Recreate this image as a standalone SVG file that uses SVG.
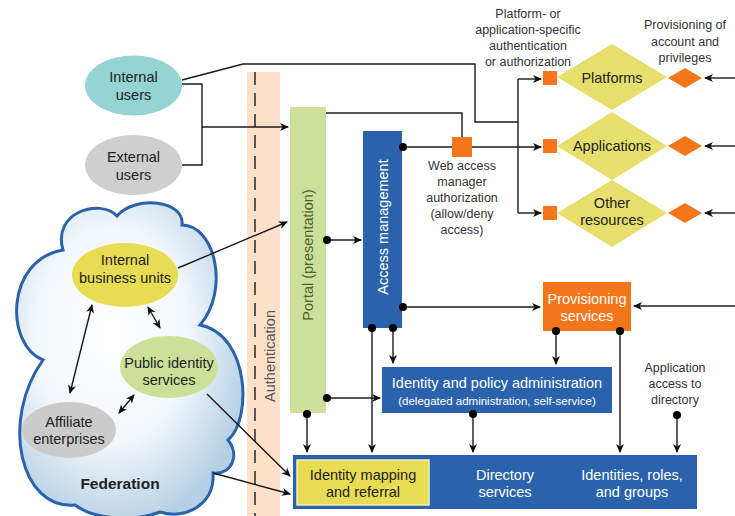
<svg xmlns="http://www.w3.org/2000/svg" width="735" height="516" viewBox="0 0 735 516">
<defs>
<marker id="ah" markerUnits="userSpaceOnUse" markerWidth="10" markerHeight="8" refX="8" refY="4" orient="auto-start-reverse" viewBox="0 0 10 8">
<path d="M0,0 L9,4 L0,8 L2.5,4 Z" fill="#111"/>
</marker>
<radialGradient id="cloudg" cx="0.42" cy="0.42" r="0.62">
<stop offset="0" stop-color="#ffffff"/>
<stop offset="0.55" stop-color="#f2f7fb"/>
<stop offset="1" stop-color="#b5d0e4"/>
</radialGradient>
<style>
text{font-family:"Liberation Sans",Arial,sans-serif;text-anchor:middle}
.t{font-size:14.5px;fill:#222}
.w{font-size:14.5px;fill:#fff}
.s{font-size:12.5px;fill:#333}
.c{fill:none;stroke:#1a1a1a;stroke-width:1.4}
.a{marker-end:url(#ah)}
.d{marker-start:url(#ah);marker-end:url(#ah)}
.dot{fill:#000}
.blue{fill:#2a63ab}
.org{fill:#f5761a}
.ydia{fill:#e6df6c}
</style>
</defs>

<g id="authentication">
<rect x="247" y="72" width="33" height="444" fill="#fde0c8"/>
<line x1="255" y1="72" x2="255" y2="516" stroke="#333" stroke-width="1.6" stroke-dasharray="13,8"/>
<text transform="translate(275,356) rotate(-90)" style="font-size:14.5px;fill:#555">Authentication</text>
</g>

<g id="federation">
<path d="M63,250 C52,212 100,198 117,216 C135,195 185,200 182,225 C215,225 230,290 200,325 C250,335 252,420 228,440 C240,455 232,475 213,473 C215,505 185,520 160,512 C135,522 95,520 75,505 C20,510 0,420 43,360 C5,345 5,260 63,250 Z" fill="url(#cloudg)" stroke="#2a63ab" stroke-width="3"/>
<text x="120" y="489" style="font-size:15.5px;font-weight:bold;fill:#222">Federation</text>
</g>

<g id="internal-users">
<ellipse cx="133.5" cy="85.5" rx="48.5" ry="30" fill="#96d3d3"/>
<text class="t" x="133.5" y="82">Internal</text>
<text class="t" x="133.5" y="100">users</text>
</g>

<g id="external-users">
<ellipse cx="133.5" cy="165" rx="48.5" ry="30" fill="#cfcfcf"/>
<text class="t" x="133.5" y="162">External</text>
<text class="t" x="133.5" y="180">users</text>
</g>

<g id="internal-business-units">
<ellipse cx="125" cy="275" rx="53" ry="32" fill="#e8dc52"/>
<text class="t" x="125" y="265">Internal</text>
<text class="t" x="125" y="283">business units</text>
</g>

<g id="public-identity-services">
<ellipse cx="169" cy="367" rx="49" ry="31" fill="#cde09a"/>
<text class="t" x="169" y="368">Public identity</text>
<text class="t" x="169" y="385">services</text>
</g>

<g id="affiliate-enterprises">
<ellipse cx="69" cy="430" rx="47" ry="28" fill="#cbcbcb"/>
<text class="t" x="69" y="427">Affiliate</text>
<text class="t" x="69" y="444">enterprises</text>
</g>

<g id="portal">
<rect x="290" y="107" width="36" height="306" fill="#cde09a"/>
<text transform="translate(313,255) rotate(-90)" style="font-size:14.5px;fill:#4f5f2c">Portal (presentation)</text>
</g>

<g id="access-management">
<rect class="blue" x="363" y="131" width="39" height="197"/>
<text class="w" transform="translate(388,227) rotate(-90)">Access management</text>
</g>

<g id="web-access-manager">
<rect class="org" x="452" y="137" width="20" height="20"/>
<text class="s" x="462" y="170">Web access</text>
<text class="s" x="462" y="186">manager</text>
<text class="s" x="462" y="202">authorization</text>
<text class="s" x="462" y="218">(allow/deny</text>
<text class="s" x="462" y="234">access)</text>
</g>

<g id="platform-auth-label">
<text class="s" x="528" y="18">Platform- or</text>
<text class="s" x="528" y="34">application-specific</text>
<text class="s" x="528" y="50">authentication</text>
<text class="s" x="528" y="66">or authorization</text>
</g>

<g id="provisioning-label">
<text class="s" x="685" y="29">Provisioning of</text>
<text class="s" x="685" y="46">account and</text>
<text class="s" x="685" y="62">privileges</text>
</g>

<g id="platforms">
<rect class="org" x="543" y="71" width="14" height="14"/>
<polygon class="ydia" points="557,77 612,44 667,77 612,110"/>
<polygon class="org" points="668,78 685,68 702,78 685,88"/>
<text class="t" x="612" y="83">Platforms</text>
</g>

<g id="applications">
<rect class="org" x="543" y="139" width="14" height="14"/>
<polygon class="ydia" points="557,146 612,112 667,146 612,180"/>
<polygon class="org" points="668,146 685,136 702,146 685,156"/>
<text class="t" x="612" y="151">Applications</text>
</g>

<g id="other-resources">
<rect class="org" x="543" y="206" width="14" height="14"/>
<polygon class="ydia" points="557,213 612,180 667,213 612,247"/>
<polygon class="org" points="668,213 685,203 702,213 685,223"/>
<text class="t" x="612" y="208">Other</text>
<text class="t" x="612" y="225">resources</text>
</g>

<g id="provisioning-services">
<rect class="org" x="543" y="282" width="88" height="49"/>
<text class="w" x="587" y="304">Provisioning</text>
<text class="w" x="587" y="321">services</text>
</g>

<g id="identity-policy-admin">
<rect class="blue" x="382" y="367" width="230" height="46"/>
<text class="w" x="497" y="388">Identity and policy administration</text>
<text x="497" y="405" style="font-size:11.5px;fill:#fff">(delegated administration, self-service)</text>
</g>

<g id="app-access-label">
<text class="s" x="675" y="372">Application</text>
<text class="s" x="675" y="388">access to</text>
<text class="s" x="675" y="404">directory</text>
</g>

<g id="directory-services">
<rect class="blue" x="293" y="455" width="404" height="54"/>
<rect x="297" y="460" width="132" height="45" fill="#e8dc52" stroke="#f6f1c4" stroke-width="1.5"/>
<text class="t" x="363" y="480">Identity mapping</text>
<text class="t" x="363" y="497">and referral</text>
<text class="w" x="505" y="480">Directory</text>
<text class="w" x="505" y="497">services</text>
<text class="w" x="632" y="480">Identities, roles,</text>
<text class="w" x="632" y="497">and groups</text>
</g>

<g id="connectors">
<polyline class="c" points="182,80 243,64 475,64 475,122 518,122"/>
<path class="c" d="M518,79 V213"/>
<path class="c a" d="M518,79 H541"/>
<path class="c a" d="M518,213 H541"/>
<path class="c" d="M182,84 H202 V165 H182"/>
<path class="c a" d="M202,127 H288"/>
<path class="c" d="M326,113 H462 V137"/>
<path class="c" d="M403,147 H452"/>
<path class="c a" d="M472,147 H541"/>
<path class="c a" d="M327,240 H361"/>
<path class="c a" d="M403,307 H540"/>
<path class="c a" d="M735,78 H705"/>
<path class="c a" d="M735,146 H705"/>
<path class="c a" d="M735,213 H705"/>
<path class="c a" d="M735,306 H634"/>
<path class="c a" d="M372,328 V452"/>
<path class="c a" d="M393,328 V363"/>
<path class="c a" d="M327,398 H380"/>
<path class="c a" d="M307,414 V452"/>
<path class="c a" d="M473,414 V452"/>
<path class="c a" d="M556,331 V364"/>
<path class="c a" d="M620,331 V452"/>
<path class="c a" d="M677,415 V452"/>
<path class="c a" d="M178,268 L287,222"/>
<path class="c a" d="M207,394 L290,476"/>
<path class="c a" d="M213,473 L290,494"/>
<path class="c d" d="M92,305 L70,393"/>
<path class="c d" d="M148,307 L160,328"/>
<path class="c d" d="M134,395 L119,413"/>
<circle class="dot" cx="403" cy="147" r="4"/>
<circle class="dot" cx="327" cy="240" r="4"/>
<circle class="dot" cx="403" cy="307" r="4"/>
<circle class="dot" cx="372" cy="328" r="4"/>
<circle class="dot" cx="393" cy="328" r="4"/>
<circle class="dot" cx="327" cy="398" r="4"/>
<circle class="dot" cx="307" cy="414" r="4"/>
<circle class="dot" cx="473" cy="414" r="4"/>
<circle class="dot" cx="556" cy="331" r="4"/>
<circle class="dot" cx="620" cy="331" r="4"/>
<circle class="dot" cx="677" cy="415" r="4"/>
</g>
</svg>
